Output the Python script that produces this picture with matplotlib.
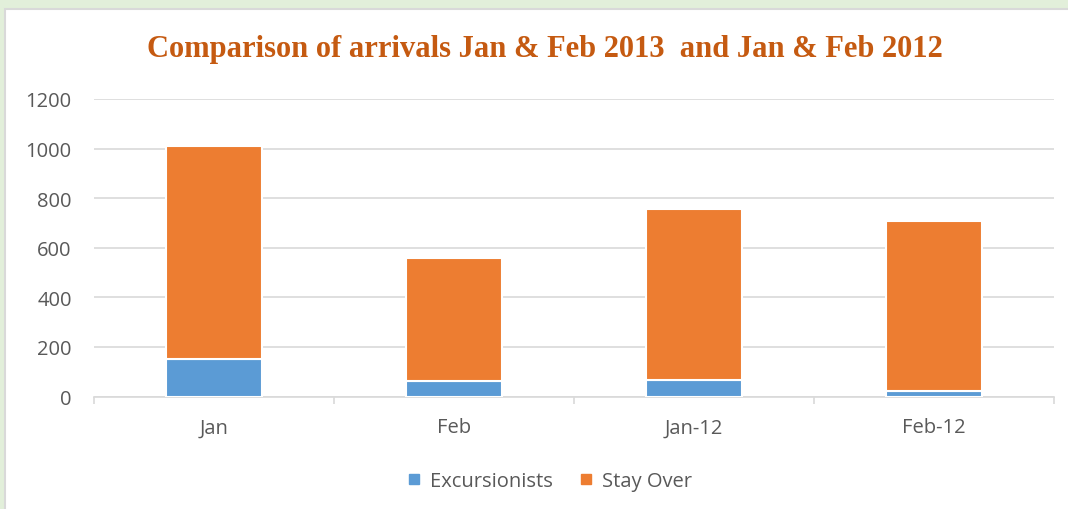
import matplotlib
matplotlib.use("Agg")
import matplotlib.pyplot as plt
from matplotlib.patches import Rectangle
from matplotlib.lines import Line2D
import numpy as np

categories = ["Jan", "Feb", "Jan-12", "Feb-12"]
excursionists = [150, 62, 68, 22]
stay_over = [862, 498, 687, 686]
y_ticks = [0, 200, 400, 600, 800, 1000, 1200]
title = "Comparison of arrivals Jan & Feb 2013  and Jan & Feb 2012"

W, H = 1068, 510
fig = plt.figure(figsize=(W / 100, H / 100), dpi=100)
fig.patch.set_facecolor("#e2efda")
fig.patches.append(Rectangle((5 / W, -0.1), 1.2, 1.1 - 10 / H, transform=fig.transFigure,
                             facecolor="white", edgecolor="#d9d9d9", linewidth=1.5, zorder=-5))

left, right = 94 / W, 1054 / W
bottom, top = 1 - 397.5 / H, 1 - 100 / H
ax = fig.add_axes([left, bottom, right - left, top - bottom])
ax.set_facecolor("none")
ax.set_zorder(2)

blue = "#5b9bd5"
orange = "#ed7d31"
x = np.arange(len(categories))
bw = 0.4
ax.bar(x, excursionists, bw, color=blue, edgecolor="white", linewidth=1.5, zorder=3)
ax.bar(x, stay_over, bw, bottom=excursionists, color=orange, edgecolor="white", linewidth=1.5, zorder=3)

ax.set_xlim(-0.5, len(categories) - 0.5)
ax.set_ylim(0, 1200)
ax.set_yticks(y_ticks)
ax.set_xticks(x)
ax.set_xticklabels(categories)
ax.set_xticks(np.arange(len(categories) + 1) - 0.5, minor=True)

tc = "#595959"
fs = 14.5
for lbl in ax.get_yticklabels() + ax.get_xticklabels():
    lbl.set_fontfamily("Open Sans")
    lbl.set_fontsize(fs)
    lbl.set_color(tc)
ax.tick_params(axis="y", length=0, pad=16)
ax.tick_params(axis="x", which="major", length=0, pad=15)
ax.tick_params(axis="x", which="minor", length=5, color="#d9d9d9", width=1.2)

ax.grid(axis="y", color="#d9d9d9", linewidth=1.2, zorder=0)
for s in ["top", "right", "left"]:
    ax.spines[s].set_visible(False)
ax.spines["bottom"].set_color("#d9d9d9")
ax.spines["bottom"].set_linewidth(1.2)

fig.text(545 / W, 1 - 50 / H, title, ha="center", va="center",
         fontfamily="Liberation Serif", fontweight="bold", fontsize=22, color="#c55a11")

handles = [Line2D([], [], marker="s", linestyle="none", markersize=7.5, color=blue, label="Excursionists"),
           Line2D([], [], marker="s", linestyle="none", markersize=7.5, color=orange, label="Stay Over")]
leg = fig.legend(handles=handles, loc="center", bbox_to_anchor=(549 / W, 1 - 482 / H), ncol=2,
                 frameon=False, handlelength=0.8, handletextpad=0.4, columnspacing=1.2,
                 prop={"family": "Open Sans", "size": fs})
for t in leg.get_texts():
    t.set_color(tc)

fig.savefig("out.png", dpi=100)
